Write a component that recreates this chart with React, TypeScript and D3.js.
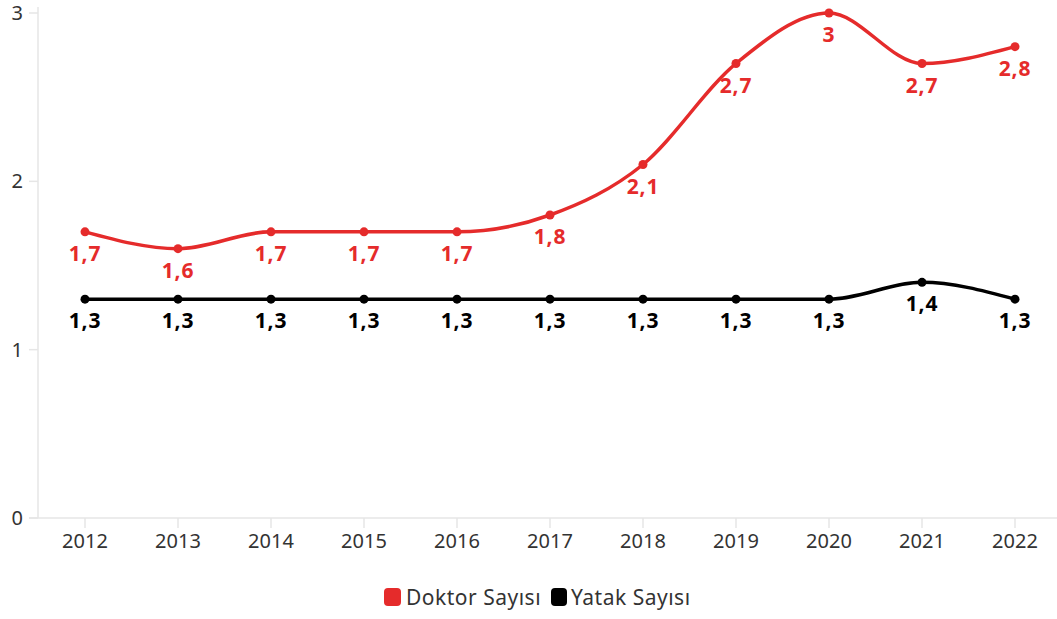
import React from 'react';
import * as d3 from 'd3';

const years = ['2012', '2013', '2014', '2015', '2016', '2017', '2018', '2019', '2020', '2021', '2022'];
const doktorSayisi = [1.7, 1.6, 1.7, 1.7, 1.7, 1.8, 2.1, 2.7, 3, 2.7, 2.8];
const yatakSayisi = [1.3, 1.3, 1.3, 1.3, 1.3, 1.3, 1.3, 1.3, 1.3, 1.4, 1.3];
const yTicks = [0, 1, 2, 3];
const seriesNames = ['Doktor Sayısı', 'Yatak Sayısı'];
const seriesColors = ['#e52b2b', '#000000'];

const W = 1057;
const H = 619;
const FONT = '"Noto Sans", sans-serif';

const App: React.FC = () => {
  const x = d3.scalePoint<string>().domain(years).range([85, 1015]);
  const y = d3.scaleLinear().domain([0, 3]).range([518, 13]);

  const line = d3.line<number>()
    .x((_, i) => x(years[i]) as number)
    .y(d => y(d))
    .curve(d3.curveMonotoneX);

  const fmt = (v: number) => String(v).replace('.', ',');
  const series = [doktorSayisi, yatakSayisi];

  return (
    <svg width={W} height={H} style={{ position: 'absolute', left: 0, top: 0, background: '#fff' }}>
      {/* axes */}
      <line x1={38} x2={38} y1={7} y2={518} stroke="#e6e6e6" strokeWidth={1.5} />
      <line x1={29} x2={W} y1={518} y2={518} stroke="#e6e6e6" strokeWidth={1.5} />
      {yTicks.map(t => (
        <g key={t}>
          <line x1={29} x2={38} y1={y(t)} y2={y(t)} stroke="#e6e6e6" strokeWidth={1.5} />
          <text x={23} y={y(t)} dy="0.35em" textAnchor="end" fontFamily={FONT} fontSize={20} fill="#333">{t}</text>
        </g>
      ))}
      {years.map(yr => (
        <g key={yr}>
          <line x1={x(yr)} x2={x(yr)} y1={518} y2={528} stroke="#e6e6e6" strokeWidth={1.5} />
          <text x={x(yr)} y={548} textAnchor="middle" fontFamily={FONT} fontSize={20} fill="#333">{yr}</text>
        </g>
      ))}

      {/* series */}
      {series.map((vals, si) => (
        <g key={si}>
          <path d={line(vals) || ''} fill="none" stroke={seriesColors[si]} strokeWidth={3.5} />
          {vals.map((v, i) => (
            <circle key={i} cx={x(years[i])} cy={y(v)} r={4.5} fill={seriesColors[si]} />
          ))}
          {vals.map((v, i) => (
            <text key={'t' + i} x={x(years[i])} y={y(v) + 29} textAnchor="middle" fontFamily={FONT}
              fontWeight="bold" fontSize={21} letterSpacing={0.8} fill={seriesColors[si]}>{fmt(v)}</text>
          ))}
        </g>
      ))}

      {/* legend */}
      <g>
        <rect x={384} y={588} width={17} height={18} rx={4} fill={seriesColors[0]} />
        <text x={406} y={605} fontFamily={FONT} fontSize={21} letterSpacing={0.5} fill="#333">{seriesNames[0]}</text>
        <rect x={551} y={588} width={16} height={18} rx={4} fill={seriesColors[1]} />
        <text x={571} y={605} fontFamily={FONT} fontSize={21} letterSpacing={0.5} fill="#333">{seriesNames[1]}</text>
      </g>
    </svg>
  );
};

export default App;
